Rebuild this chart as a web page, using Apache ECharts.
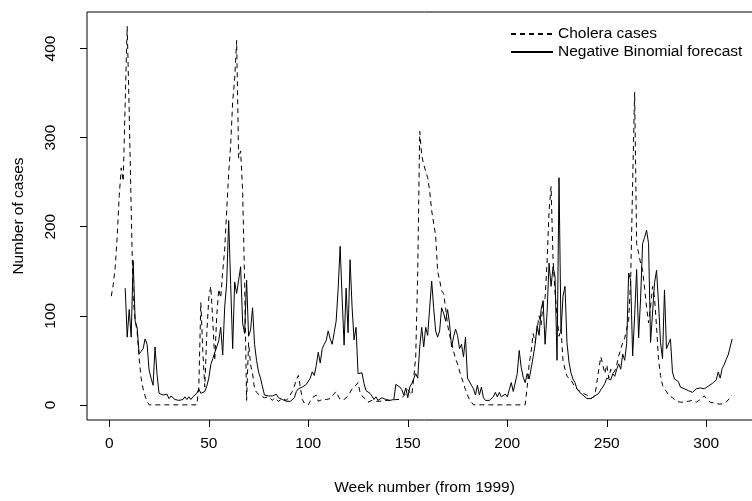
<!DOCTYPE html>
<html><head><meta charset="utf-8">
<script src="https://cdn.jsdelivr.net/npm/echarts@6/dist/echarts.min.js"></script>
<style>html,body{margin:0;padding:0;background:#fff;overflow:hidden;width:752px;height:501px}#c{width:765px;height:501px}</style>
</head><body><div id="c"></div>
<script>
// Weekly cholera cases (weeks 1..313)
const cases = [
122,135,155,190,235,266,251,340,425,330,220,120,95,82,52,30,18,10,4,0,
0,0,0,0,0,0,0,0,0,0,0,0,0,0,0,0,0,0,0,0,0,0,0,0,
20,115,60,20,80,120,133,95,50,100,130,120,150,175,218,260,292,340,366,409,277,285,240,140,5,70,45,35,18,14,12,10,
9,8,6,9,7,5,8,6,4,5, 7,6,5,8,10,15,21,28,33,20, 6,2,0,0,4,8,10,11,4,5, 6,5,6,8,7,10,12,15,10,6,
5,6,8,10,12,18,20,22,25,14, 10,8,6,3,4,5,5,4,5,4, 5,5,4,5,4,5,5,6,5,6, 8,10,13,17,14,11,
30,55,150,307,280,270,262,255,240,218,218,190,150,140,128,125,109,90,78,70,60,52,46,38,31,24,17,11,6,3,
0,0,0,0,0,0,0,0,0,0,0,0,0,0,0,0,0,0,0,0,0,0,0,0,0,0,0,
20,46,60,80,70,85,100,90,115,120, 160,218,245,163,126,100,77,85,50,40, 32,30,28,24,20,18,16,14,13,12, 11,9,7,5,
10,25,40,54,45,35,45,30,40,35, 38,45,55,62,70,75,85,95,140,250, 351,181,170,159,151,131,110,92,110,133,
120,88,51,33,22,18,15,11,9,8, 6,4,2,3,4,3,2,4,6,5, 4,3,5,6,8,10,7,5,3,2, 2,1,1,1,1,2,3,5,8,11
];
// Negative Binomial forecast (weeks 1..313, none for weeks 1-7)
const forecast = [
null,null,null,null,null,null,null,
131,76,107,76,162,94,87,57,60,63,74,68,39,30,22,65,34,13,
12,11,9,12,7,10,8,6,6,5,4,6,9,6,9,6,9,11,13,18,13,11,15,21,30,
45,52,50,65,72,87,56,110,137,207,135,63,138,125,140,155,92,80,140,77,84,109,68,50,37,30,20,11,9,10,
9,10,9,12,8,7,6,5,4,5, 4,6,8,15,18,19,20,22,23,25, 30,37,33,44,59,47,63,68,72,83, 74,68,81,94,130,178,120,67,131,81,
163,110,73,87,35,33,36,24,16,18, 13,10,6,9,5,6,8,7,6,7, 5,7,6,
23,22,20,17,11,19,8,20,24,22, 35,30,65,87,65,87,78,109,139,109, 83,76,83,109,103,94,107,91,65,76, 85,78,63,68,54,76,30,29,22,18,
11,22,11,20,8,5,4,5,7,9, 14,9,14,9,11,12,9,17,25,15, 17,35,61,42,31,25,35,29,41,54, 68,89,78,107,117,68,104,159,133,155, 144,50,255,81,122,133,70,
48,36,29,25,18,15,13,11,9,7, 6,7,9,10,10,13,17,20,24,30, 32,28,35,32,40,46,40,57,50,69, 148,140,55,100,152,75,120,181,188,196,
181,70,68,137,151,114,70,52,129,63, 63,74,37,29,27,26,20,22,18,20, 16,18,14,16,18,17,19,20,18,20, 21,22,24,26,28,37,30,41,45,51, 56,56,74
];
const xTicks = [0,50,100,150,200,250,300];
const yTicks = [0,100,200,300,400];
const seriesNames = ['Cholera cases','Negative Binomial forecast'];

const font = "'Liberation Sans', Arial, Helvetica, sans-serif";
const fs = 15.5;
const casesData = cases.map((v,i)=>[i+1,v]);
const fcData = forecast.map((v,i)=>[i+1,v]).filter(d=>d[1]!==null);

const chart = echarts.init(document.getElementById('c'), null, {renderer:'canvas'});
chart.setOption({
  animation:false,
  backgroundColor:'#fff',
  textStyle:{fontFamily:font},
  grid:{left:87,top:12,right:3,bottom:78,show:true,borderColor:'#000',borderWidth:1,containLabel:false},
  legend:{
    data:seriesNames, orient:'vertical', left:505, top:21, itemWidth:42, itemHeight:10, itemGap:2,
    textStyle:{fontSize:fs,color:'#000',fontFamily:font},
    itemStyle:{opacity:0}
  },
  xAxis:{
    type:'value', min:-11.2, max:328,
    name:'Week number (from 1999)', nameLocation:'middle', nameGap:60,
    nameTextStyle:{fontSize:fs,color:'#000',fontFamily:font},
    axisLine:{show:false,onZero:false},
    axisTick:{show:true,customValues:xTicks,length:7,lineStyle:{color:'#000',width:1}},
    axisLabel:{customValues:xTicks,margin:16,fontSize:fs,color:'#000',fontFamily:font},
    splitLine:{show:false}
  },
  yAxis:{
    type:'value', min:-17, max:441,
    name:'Number of cases', nameLocation:'middle', nameGap:60,
    nameTextStyle:{fontSize:fs,color:'#000',fontFamily:font},
    axisLine:{show:false,onZero:false},
    axisTick:{show:true,customValues:yTicks,length:7,lineStyle:{color:'#000',width:1}},
    axisLabel:{customValues:yTicks,rotate:90,margin:28,fontSize:fs,color:'#000',fontFamily:font},
    splitLine:{show:false}
  },
  series:[
    {name:seriesNames[0],type:'line',data:casesData,symbol:'none',
     lineStyle:{color:'#000',width:1,type:[5,4]},itemStyle:{color:'#000'}},
    {name:seriesNames[1],type:'line',data:fcData,symbol:'none',
     lineStyle:{color:'#000',width:1,type:'solid'},itemStyle:{color:'#000'}}
  ]
});
</script></body></html>
